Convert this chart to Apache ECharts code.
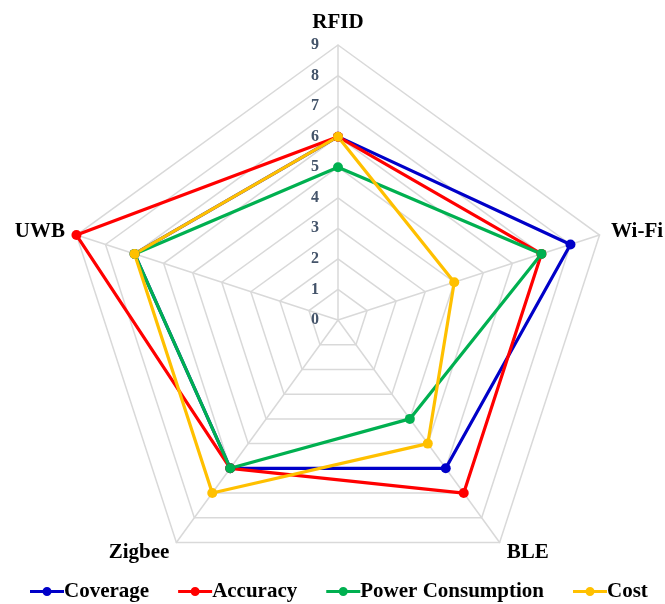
<!DOCTYPE html>
<html>
<head>
<meta charset="utf-8">
<script src="https://cdn.jsdelivr.net/npm/echarts@6/dist/echarts.min.js"></script>
<style>
  html, body { margin: 0; padding: 0; background: #fff; }
  #chart { width: 665px; height: 604px; }
</style>
</head>
<body>
<div id="chart"></div>
<script>
// Technologies compared, listed clockwise from the top axis
const technologies = ['RFID', 'Wi-Fi', 'BLE', 'Zigbee', 'UWB'];
const scaleMax = 9;

// Scores per technology (same order as technologies)
const coverage = [6, 8, 6, 6, 7];
const accuracy = [6, 7, 7, 6, 9];
const powerConsumption = [5, 7, 4, 6, 7];
const cost = [6, 4, 5, 7, 7];

const seriesNames = ['Coverage', 'Accuracy', 'Power Consumption', 'Cost'];
const seriesValues = [coverage, accuracy, powerConsumption, cost];
const seriesColors = ['#0000C8', '#FF0000', '#00B050', '#FFC000'];

const serif = '"Liberation Serif", "DejaVu Serif", serif';

// ECharts lays radar axes out counter-clockwise; reorder so they run clockwise
const drawOrder = technologies.map((_, i) => (technologies.length - i) % technologies.length);
const toDrawOrder = arr => drawOrder.map(k => arr[k]);

const indicator = drawOrder.map((k, i) => {
  const item = { name: technologies[k], max: scaleMax, min: 0 };
  if (i === 0) {
    // scale labels only along the top axis
    item.axisLabel = {
      show: true,
      color: '#44546A',
      fontFamily: serif,
      fontWeight: 'bold',
      fontSize: 16,
      margin: 19
    };
  }
  return item;
});

// legend marker: short line with a dot in the middle
const legendIcon = 'path://M0,3.5 L34,3.5 L34,6.5 L0,6.5 Z M17,0.5 A4.5,4.5 0 1,1 16.99,0.5 Z';

const chart = echarts.init(document.getElementById('chart'), null, { renderer: 'canvas' });
chart.setOption({
  animation: false,
  backgroundColor: '#ffffff',
  legend: {
    top: 576,
    left: 25,
    itemWidth: 34,
    itemHeight: 10,
    itemGap: 29,
    icon: legendIcon,
    data: seriesNames,
    textStyle: { fontFamily: serif, fontWeight: 'bold', fontSize: 21, color: '#000', padding: [0, 0, 0, -5] }
  },
  radar: {
    center: [338, 320],
    radius: 275,
    startAngle: 90,
    splitNumber: 9,
    shape: 'polygon',
    nameGap: 12,
    axisName: {
      color: '#000',
      fontFamily: serif,
      fontWeight: 'bold',
      fontSize: 21
    },
    axisLabel: { show: false },
    axisLine: { lineStyle: { color: '#D9D9D9', width: 1.5 } },
    splitLine: { lineStyle: { color: '#D9D9D9', width: 1.5 } },
    splitArea: { show: false },
    indicator: indicator
  },
  series: [{
    type: 'radar',
    symbol: 'circle',
    symbolSize: 10,
    data: seriesNames.map((name, i) => ({
      name: name,
      value: toDrawOrder(seriesValues[i]),
      itemStyle: { color: seriesColors[i] },
      lineStyle: { color: seriesColors[i], width: 3.2 }
    }))
  }]
});
</script>
</body>
</html>
